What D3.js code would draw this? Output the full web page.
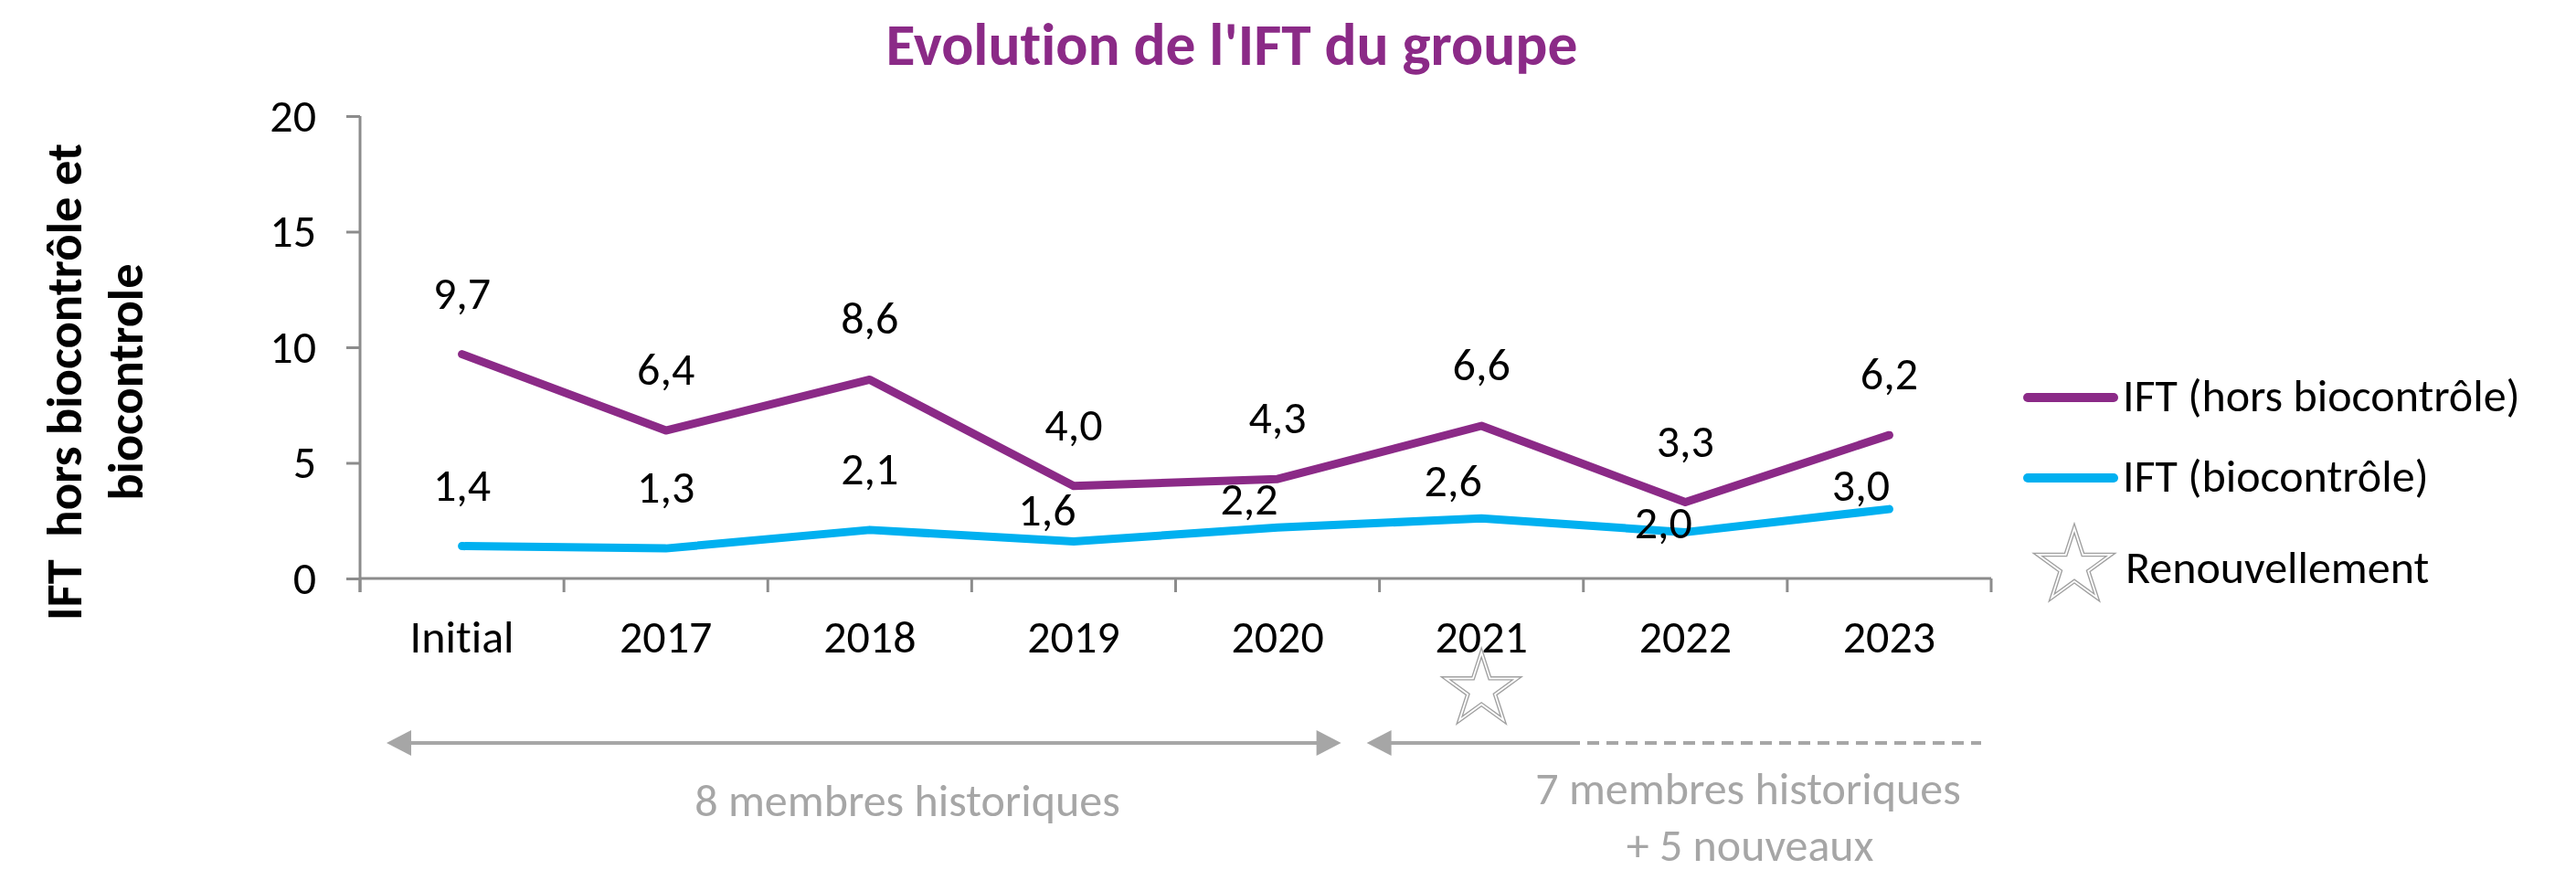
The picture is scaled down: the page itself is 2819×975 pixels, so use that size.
<!DOCTYPE html>
<html>
<head>
<meta charset="utf-8">
<script src="https://cdn.jsdelivr.net/npm/d3@7"></script>
<style>
  html, body { margin: 0; padding: 0; background: #ffffff; }
  svg { display: block; }
  text { font-family: Calibri, Carlito, "Open Sans", sans-serif; font-variant-ligatures: none; font-feature-settings: "liga" 0; }
</style>
</head>
<body>
<svg id="chart" width="2819" height="975"></svg>
<script>
// ---------- data ----------
const categories = ["Initial", "2017", "2018", "2019", "2020", "2021", "2022", "2023"];
const iftHorsBiocontrole = [9.7, 6.4, 8.6, 4.0, 4.3, 6.6, 3.3, 6.2];
const iftBiocontrole = [1.4, 1.3, 2.1, 1.6, 2.2, 2.6, 2.0, 3.0];
const yTickValues = [0, 5, 10, 15, 20];
const seriesNames = ["IFT (hors biocontrôle)", "IFT (biocontrôle)"];
const renewalName = "Renouvellement";
const renewalCategory = "2021";
const titleText = "Evolution de l'IFT du groupe";
const yTitleLines = ["IFT  hors biocontrôle et", "biocontrole"];
const periodLabels = ["8 membres historiques", "7 membres historiques", "+ 5 nouveaux"];

// ---------- layout ----------
const purple = "#8B2A87", blue = "#00B0F0", axisGray = "#8C8C8C", annoGray = "#A6A6A6";
const baseFont = 50;
const svg = d3.select("#chart");

const x = d3.scaleBand().domain(categories).range([394, 2179]).padding(0);
const cx = c => x(c) + x.bandwidth() / 2;
const y = d3.scaleLinear().domain([0, 20]).range([633, 127]);

function fitWidth(sel, target) {
  const node = sel.node();
  const fs = parseFloat(sel.attr("font-size"));
  const w = node.getComputedTextLength();
  if (w > 0) sel.attr("font-size", fs * target / w);
  return sel;
}

// ---------- title ----------
const title = svg.append("text")
  .attr("x", 1348).attr("y", 71)
  .attr("text-anchor", "middle")
  .attr("font-size", 58).attr("font-weight", "bold")
  .attr("fill", purple)
  .text(titleText);
fitWidth(title, 757);

// ---------- y axis title ----------
const yTitleBaselines = [89, 156];
const yTitleWidths = [522, 259];
yTitleLines.forEach((ln, i) => {
  const t = svg.append("text")
    .attr("transform", `translate(${yTitleBaselines[i]},418) rotate(-90)`)
    .attr("text-anchor", "middle")
    .attr("font-size", 50).attr("font-weight", "bold")
    .attr("fill", "#000")
    .style("white-space", "pre")
    .attr("xml:space", "preserve")
    .text(ln);
  fitWidth(t, yTitleWidths[i]);
});

// ---------- y axis ----------
const yAxisG = svg.append("g")
  .attr("transform", `translate(${x.range()[0]},0)`)
  .call(d3.axisLeft(y).tickValues(yTickValues).tickSize(15).tickPadding(33).tickFormat(d3.format("d")));
yAxisG.select(".domain").remove();
yAxisG.selectAll(".tick line").attr("stroke", axisGray).attr("stroke-width", 3);
yAxisG.selectAll(".tick text")
  .attr("font-size", baseFont).attr("fill", "#000")
  .attr("font-family", "Calibri, Carlito, 'Open Sans', sans-serif");
svg.append("line")
  .attr("x1", x.range()[0]).attr("x2", x.range()[0])
  .attr("y1", y(20)).attr("y2", y(0) + 15)
  .attr("stroke", axisGray).attr("stroke-width", 3);

// ---------- x axis ----------
const xAxisG = svg.append("g")
  .attr("transform", `translate(0,${y(0)})`)
  .call(d3.axisBottom(x).tickSize(0).tickPadding(0));
xAxisG.select(".domain").remove();
xAxisG.selectAll(".tick text")
  .attr("y", 81).attr("dy", 0)
  .attr("font-size", baseFont).attr("fill", "#000")
  .attr("font-family", "Calibri, Carlito, 'Open Sans', sans-serif");
svg.append("line")
  .attr("x1", x.range()[0]).attr("x2", x.range()[1])
  .attr("y1", y(0)).attr("y2", y(0))
  .attr("stroke", axisGray).attr("stroke-width", 3);
const boundaries = categories.map(c => x(c)).concat([x.range()[1]]);
svg.append("g").selectAll("line").data(boundaries).join("line")
  .attr("x1", d => d).attr("x2", d => d)
  .attr("y1", y(0)).attr("y2", y(0) + 15)
  .attr("stroke", axisGray).attr("stroke-width", 3);

// ---------- lines ----------
const lineGen = d3.line()
  .x((d, i) => cx(categories[i]))
  .y(d => y(d));
svg.append("path").datum(iftBiocontrole)
  .attr("d", lineGen).attr("fill", "none")
  .attr("stroke", blue).attr("stroke-width", 9)
  .attr("stroke-linejoin", "round").attr("stroke-linecap", "round");
svg.append("path").datum(iftHorsBiocontrole)
  .attr("d", lineGen).attr("fill", "none")
  .attr("stroke", purple).attr("stroke-width", 9)
  .attr("stroke-linejoin", "round").attr("stroke-linecap", "round");

// ---------- data labels ----------
const fmt = v => d3.format(".1f")(v).replace(".", ",");
const labelLift = 50;
// manual nudges (dx, dy) applied to the biocontrôle labels in the original
const bioLabelNudge = [[0, 0], [0, 0], [0, 0], [-29, 32], [-31, 36], [-31, 26], [-24, 57], [-31, 41]];
svg.append("g").selectAll("text").data(iftHorsBiocontrole).join("text")
  .attr("x", (d, i) => cx(categories[i]))
  .attr("y", d => y(d) - labelLift)
  .attr("text-anchor", "middle")
  .attr("font-size", baseFont).attr("fill", "#000")
  .text(fmt);
svg.append("g").selectAll("text").data(iftBiocontrole).join("text")
  .attr("x", (d, i) => cx(categories[i]) + bioLabelNudge[i][0])
  .attr("y", (d, i) => y(d) - labelLift + bioLabelNudge[i][1])
  .attr("text-anchor", "middle")
  .attr("font-size", baseFont).attr("fill", "#000")
  .text(fmt);

// ---------- star helper ----------
function starPath(R) {
  const r = R * 0.382;
  const pts = [];
  for (let k = 0; k < 10; k++) {
    const a = -Math.PI / 2 + k * Math.PI / 5;
    const rad = k % 2 === 0 ? R : r;
    pts.push([rad * Math.cos(a), rad * Math.sin(a)]);
  }
  return "M" + pts.map(p => p.join(",")).join("L") + "Z";
}
function drawStar(g, cxp, cyp, R) {
  const s = g.append("g").attr("transform", `translate(${cxp},${cyp})`);
  s.append("path").attr("d", starPath(R)).attr("fill", "#fff")
    .attr("stroke", "#A0A0A0").attr("stroke-width", 4.5).attr("stroke-linejoin", "miter");
  s.append("path").attr("d", starPath(R)).attr("fill", "none")
    .attr("stroke", "#fff").attr("stroke-width", 1.8).attr("stroke-linejoin", "miter");
}

// ---------- legend ----------
const legend = svg.append("g");
const legendRowsY = [435, 523];
[purple, blue].forEach((col, i) => {
  legend.append("line")
    .attr("x1", 2219).attr("x2", 2313)
    .attr("y1", legendRowsY[i]).attr("y2", legendRowsY[i])
    .attr("stroke", col).attr("stroke-width", 10).attr("stroke-linecap", "round");
  legend.append("text")
    .attr("x", 2323).attr("y", legendRowsY[i] + 15)
    .attr("font-size", baseFont).attr("fill", "#000")
    .text(seriesNames[i]);
});
drawStar(legend, 2270, 620, 42);
legend.append("text")
  .attr("x", 2326).attr("y", 638)
  .attr("font-size", baseFont).attr("fill", "#000")
  .text(renewalName);

// ---------- renewal star under axis ----------
drawStar(svg, cx(renewalCategory), 755, 41);

// ---------- period arrows ----------
const arrowY = 813;
function arrowHead(g, tipX, dir) {
  const L = 27, h = 14;
  g.append("path")
    .attr("d", `M${tipX},${arrowY}L${tipX + dir * L},${arrowY - h}L${tipX + dir * L},${arrowY + h}Z`)
    .attr("fill", annoGray);
}
const arr = svg.append("g");
// period 1: Initial .. 2020
const p1Left = x("Initial") + 29, p1Right = x("2021") - 42;
arr.append("line").attr("x1", p1Left + 20).attr("x2", p1Right - 20)
  .attr("y1", arrowY).attr("y2", arrowY)
  .attr("stroke", annoGray).attr("stroke-width", 4);
arrowHead(arr, p1Left, 1);
arrowHead(arr, p1Right, -1);
// period 2: 2021 ..
const p2Left = x("2021") - 14, p2SolidEnd = 1716, p2End = x.range()[1] - 11;
arr.append("line").attr("x1", p2Left + 20).attr("x2", p2SolidEnd)
  .attr("y1", arrowY).attr("y2", arrowY)
  .attr("stroke", annoGray).attr("stroke-width", 4);
arr.append("line").attr("x1", p2SolidEnd).attr("x2", p2End)
  .attr("y1", arrowY).attr("y2", arrowY)
  .attr("stroke", annoGray).attr("stroke-width", 4)
  .attr("stroke-dasharray", "13,8");
arrowHead(arr, p2Left, 1);

// ---------- period texts ----------
svg.append("text").attr("x", 993).attr("y", 893)
  .attr("text-anchor", "middle").attr("font-size", baseFont).attr("fill", annoGray)
  .text(periodLabels[0]);
svg.append("text").attr("x", 1913).attr("y", 880)
  .attr("text-anchor", "middle").attr("font-size", baseFont).attr("fill", annoGray)
  .text(periodLabels[1]);
svg.append("text").attr("x", 1915).attr("y", 942)
  .attr("text-anchor", "middle").attr("font-size", baseFont).attr("fill", annoGray)
  .text(periodLabels[2]);
</script>
</body>
</html>
